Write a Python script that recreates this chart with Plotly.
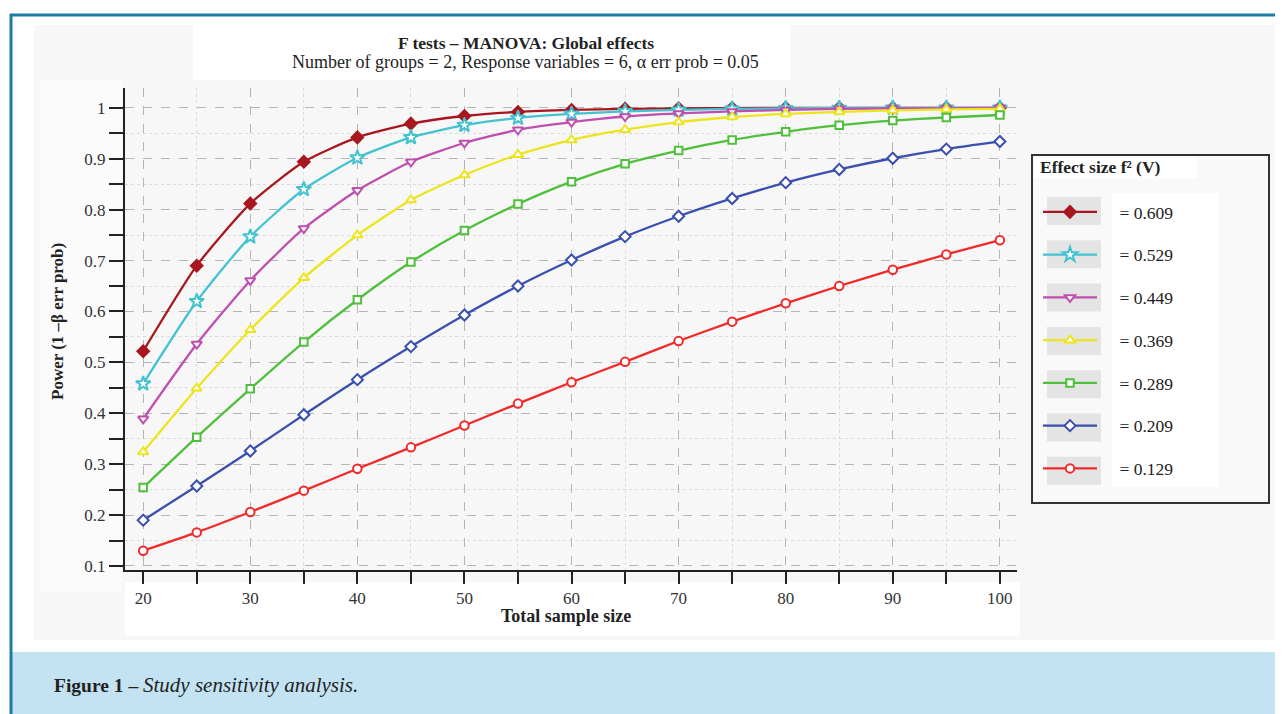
import plotly.graph_objects as go

# ---------------- data ----------------
sample_size = [20, 25, 30, 35, 40, 45, 50, 55, 60, 65, 70, 75, 80, 85, 90, 95, 100]

effect_labels = ["= 0.609", "= 0.529", "= 0.449", "= 0.369", "= 0.289", "= 0.209", "= 0.129"]

power_0609 = [0.522, 0.690, 0.812, 0.894, 0.942, 0.969, 0.984, 0.992, 0.996, 0.998, 0.999, 0.9995, 1.0, 1.0, 1.0, 1.0, 1.0]
power_0529 = [0.458, 0.620, 0.747, 0.840, 0.902, 0.942, 0.966, 0.980, 0.988, 0.993, 0.996, 0.998, 0.999, 0.9995, 1.0, 1.0, 1.0]
power_0449 = [0.389, 0.536, 0.661, 0.763, 0.838, 0.894, 0.931, 0.957, 0.972, 0.983, 0.989, 0.993, 0.996, 0.998, 0.999, 0.999, 1.0]
power_0369 = [0.324, 0.449, 0.564, 0.666, 0.750, 0.819, 0.868, 0.908, 0.937, 0.957, 0.972, 0.982, 0.988, 0.992, 0.995, 0.997, 0.998]
power_0289 = [0.254, 0.353, 0.448, 0.540, 0.623, 0.697, 0.759, 0.811, 0.855, 0.890, 0.916, 0.937, 0.953, 0.966, 0.975, 0.981, 0.986]
power_0209 = [0.190, 0.257, 0.326, 0.397, 0.466, 0.531, 0.593, 0.650, 0.701, 0.747, 0.787, 0.822, 0.853, 0.879, 0.901, 0.919, 0.934]
power_0129 = [0.130, 0.166, 0.206, 0.248, 0.291, 0.333, 0.376, 0.419, 0.461, 0.501, 0.542, 0.580, 0.616, 0.650, 0.682, 0.712, 0.740]

series = [power_0609, power_0529, power_0449, power_0369, power_0289, power_0209, power_0129]

# ---------------- styles ----------------
colors = ["#a8161f", "#43c3cf", "#bf4fae", "#ece51c", "#4fbf3c", "#3a4fae", "#f02a2a"]
symbols = ["diamond", "star", "triangle-down", "triangle-up", "square", "diamond", "circle"]
msizes = [9, 11, 9, 9, 7.5, 8.5, 8.5]
mfill = ["#a8161f", "white", "white", "white", "white", "white", "white"]

FONT = "Liberation Serif"
OFF = 8                      # browser body margin
W, H = 1283 - OFF, 714 - OFF
L, R, T, B = 125, 1017, 88, 570   # plot area in page pixels


def px(x):
    return (x - L) / (R - L)


def py(y):
    return (B - y) / (B - T)


fig = go.Figure()
for i, (vals, name) in enumerate(zip(series, effect_labels)):
    fig.add_trace(go.Scatter(
        x=sample_size, y=vals, name="\u00a0\u00a0\u00a0\u00a0" + name, mode="lines+markers",
        legendgroup=f"g{i}",
        line=dict(color=colors[i], width=2.3, shape="spline", smoothing=0.6),
        marker=dict(symbol=symbols[i], size=msizes[i], color=mfill[i],
                    line=dict(color=colors[i], width=2)),
        cliponaxis=False,
    ))

shapes = []


def rect(x0, y0, x1, y1, fill, line_color=None, lw=0, layer="below"):
    shapes.append(dict(type="rect", xref="paper", yref="paper",
                       x0=px(x0), x1=px(x1), y0=py(y0), y1=py(y1),
                       fillcolor=fill, layer=layer,
                       line=dict(color=line_color or fill, width=lw)))


# background panels
rect(34, 25, 1283, 640, "#f7f7f7")
rect(193, 25, 790, 80, "#ffffff")
rect(40, 80, 122, 592, "#fbfbfb")
rect(125, 582, 1020, 636, "#ffffff")
# caption band
rect(12, 652, 1283, 714, "#c3e3f3")
# frame lines
shapes.append(dict(type="line", xref="paper", yref="paper", x0=px(10), x1=px(1283),
                   y0=py(15), y1=py(15), line=dict(color="#1e7ba4", width=3), layer="above"))
shapes.append(dict(type="line", xref="paper", yref="paper", x0=px(11), x1=px(11),
                   y0=py(14), y1=py(714), line=dict(color="#1e7ba4", width=3), layer="above"))
# legend box
rect(1032, 155, 1269, 503, "#f9f9f9", "#333333", 2)
rect(1034, 157, 1197, 178, "#ffffff")
rect(1112, 193, 1218, 487, "#ffffff")
for i in range(len(effect_labels)):
    yc = 211 + i * 43.3
    rect(1047, yc - 14, 1101, yc + 14, "#e4e4e4")


def note(text, x, y, size, xanchor="center", angle=0):
    return dict(text=text, x=px(x), y=py(y), xref="paper", yref="paper", showarrow=False,
                xanchor=xanchor, yanchor="middle", textangle=angle,
                font=dict(family=FONT, size=size, color="#222"))


annotations = [
    note("<b>F tests – MANOVA: Global effects</b>", 526, 43, 17.5),
    note("Number of groups = 2, Response variables = 6, α err prob = 0.05", 525, 62, 18),
    note("<b>Power (1 –β err prob)</b>", 57, 322, 17, angle=-90),
    note("<b>Total sample size</b>", 566, 616, 18),
    note("<b>Effect size f² (V)</b>", 1038, 167, 17.5, xanchor="left"),
    note("<b>Figure 1 –</b> <span style='font-size:21px'><i>Study sensitivity analysis.</i></span>",
         52, 685, 19.5, xanchor="left"),
]

fig.update_layout(
    width=W, height=H,
    margin=dict(l=L - OFF, r=1283 - R, t=T - OFF, b=714 - B, pad=0),
    paper_bgcolor="#ffffff", plot_bgcolor="#eff1f1",
    font=dict(family=FONT, size=17, color="#222"),
    shapes=shapes, annotations=annotations,
    showlegend=True,
    legend=dict(x=px(1038), y=py(194), xanchor="left", yanchor="top",
                bgcolor="rgba(0,0,0,0)", borderwidth=0,
                tracegroupgap=17, itemwidth=54,
                font=dict(family=FONT, size=17.5, color="#222")),
    xaxis=dict(range=[18.3, 101.6], dtick=10, tick0=0, showline=True, linecolor="#222", linewidth=2,
               ticks="outside", ticklen=12, tickwidth=1.5, tickcolor="#222",
               showgrid=True, gridcolor="#b5b5b5", griddash="dash", gridwidth=1,
               minor=dict(dtick=5, ticks="outside", ticklen=12, tickwidth=1.5, tickcolor="#222",
                          showgrid=True, gridcolor="#dadada", griddash="dot"),
               zeroline=False, tickfont=dict(family=FONT, size=17, color="#333")),
    yaxis=dict(range=[0.0921, 1.039], dtick=0.1, tick0=0, showline=True, linecolor="#222", linewidth=2,
               ticks="outside", ticklen=14, tickwidth=1.5, tickcolor="#222",
               showgrid=True, gridcolor="#b5b5b5", griddash="dash", gridwidth=1,
               minor=dict(dtick=0.05, ticks="outside", ticklen=14, tickwidth=1.5, tickcolor="#222",
                          showgrid=True, gridcolor="#dadada", griddash="dot"),
               zeroline=False, tickfont=dict(family=FONT, size=17, color="#333")),
)

fig.write_html("out.html")
